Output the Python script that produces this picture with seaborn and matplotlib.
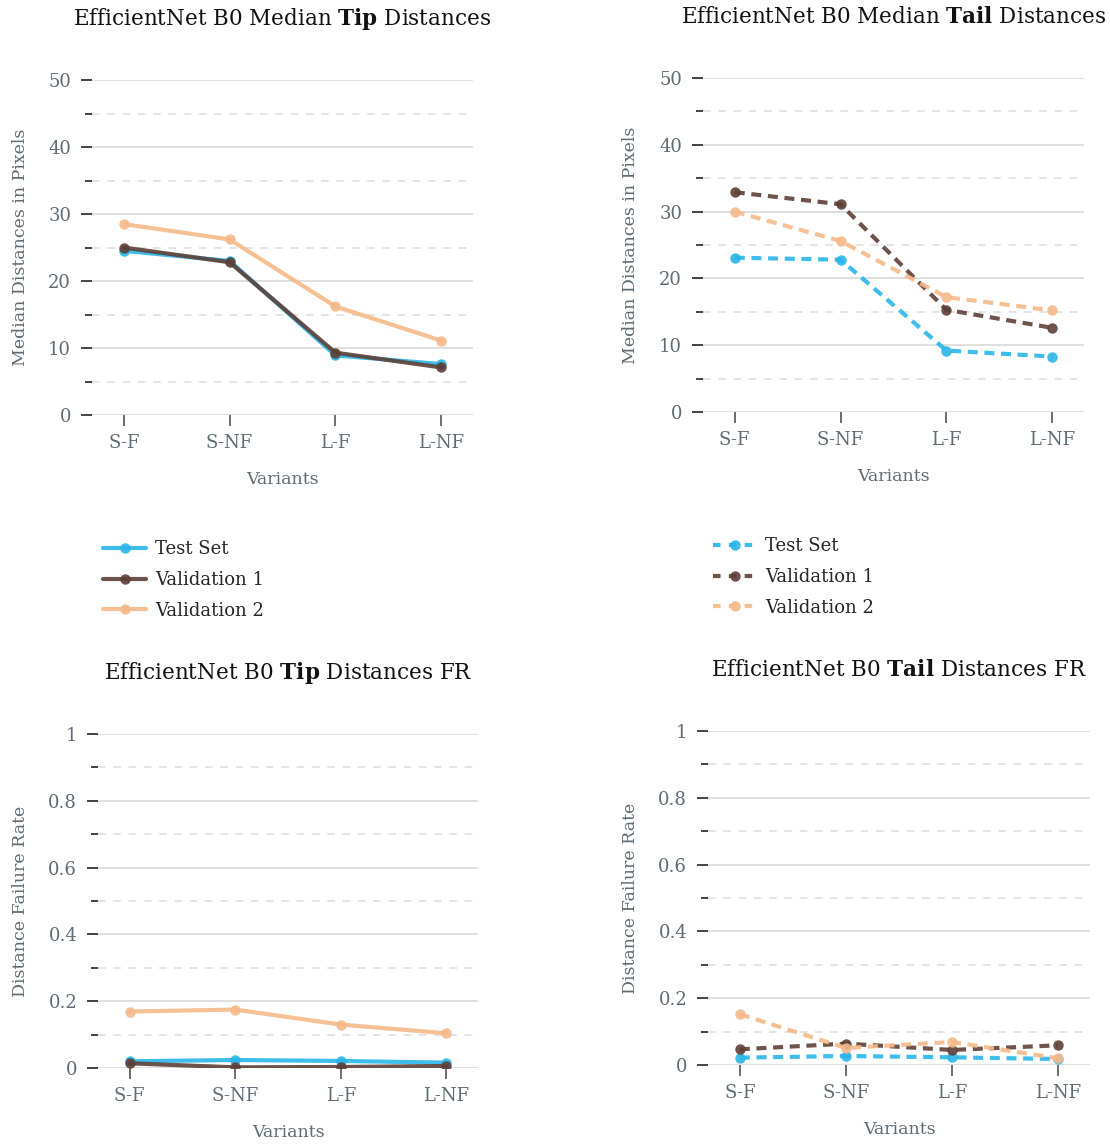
import matplotlib
matplotlib.use("Agg")
import matplotlib.pyplot as plt
from matplotlib.lines import Line2D
from matplotlib.ticker import MultipleLocator
import seaborn as sns
import pandas as pd

variants = ['S-F', 'S-NF', 'L-F', 'L-NF']
seriesNames = ['Test Set', 'Validation 1', 'Validation 2']
seriesColors = ['#29B5E8', '#5D4037', '#F5B98A']

tipMedianTest = [24.5, 23.0, 8.9, 7.6]
tipMedianVal1 = [25.0, 22.8, 9.3, 7.1]
tipMedianVal2 = [28.5, 26.2, 16.2, 11.1]

tailMedianTest = [23.1, 22.8, 9.2, 8.3]
tailMedianVal1 = [32.9, 31.1, 15.3, 12.6]
tailMedianVal2 = [30.0, 25.6, 17.2, 15.2]

tipFrTest = [0.020, 0.024, 0.021, 0.016]
tipFrVal1 = [0.014, 0.002, 0.003, 0.006]
tipFrVal2 = [0.169, 0.175, 0.130, 0.104]

tailFrTest = [0.022, 0.027, 0.023, 0.018]
tailFrVal1 = [0.047, 0.064, 0.045, 0.059]
tailFrVal2 = [0.152, 0.051, 0.069, 0.020]

W, H = 1110, 1145
TICK_COL = '#5f6b74'

sns.set_style("white")
plt.rcParams['font.family'] = ['DejaVu Serif']
plt.rcParams['mathtext.fontset'] = 'custom'
plt.rcParams['mathtext.rm'] = 'DejaVu Serif'
plt.rcParams['mathtext.bf'] = 'DejaVu Serif:bold'


def makeFrame(a, b, c):
    rows = []
    for name, vals in zip(seriesNames, [a, b, c]):
        for v, val in zip(variants, vals):
            rows.append({'variant': v, 'value': val, 'series': name})
    return pd.DataFrame(rows)


def pixAxes(fig, left, right, top, bottom):
    return fig.add_axes([left / W, 1 - bottom / H, (right - left) / W, (bottom - top) / H])


def drawPanel(ax, df, dashed, yMax, yMajor, title, ylabel, px):
    sns.lineplot(data=df, x='variant', y='value', hue='series', hue_order=seriesNames,
                 palette=seriesColors, marker='o', markersize=7.5, markeredgewidth=0,
                 linewidth=3, alpha=0.9, ax=ax, legend=False, sort=False)
    if dashed:
        for ln in ax.get_lines():
            ln.set_dashes((2.4, 1.6))
    ax.set_xlim(-0.3, 3.3)
    ax.set_ylim(0, yMax)
    ax.yaxis.set_major_locator(MultipleLocator(yMajor))
    ax.yaxis.set_minor_locator(MultipleLocator(yMajor / 2))
    ax.grid(which='major', axis='y', color='#dcdcdc', linewidth=1.3, linestyle='-')
    ax.grid(which='minor', axis='y', color='#dcdcdc', linewidth=1.1, linestyle=(0, (5, 5)))
    ax.set_axisbelow(True)
    for s in ax.spines.values():
        s.set_visible(False)
    ax.tick_params(axis='y', which='major', length=8, width=1.2, color='#222222',
                   labelsize=13, labelcolor=TICK_COL, pad=7, left=True)
    ax.tick_params(axis='y', which='minor', length=5, width=1.2, color='#222222', left=True)
    ax.tick_params(axis='x', which='major', length=8, width=1.2, color='#555555',
                   labelsize=13, labelcolor=TICK_COL, pad=6, bottom=True)
    if yMax <= 1:
        ax.set_yticklabels(['{:g}'.format(t) for t in ax.get_yticks()])
    ax.set_xlabel('Variants', fontsize=12.5, color=TICK_COL)
    ax.set_ylabel(ylabel, fontsize=12.5, color=TICK_COL)
    hAx = px[3] - px[2]
    wAx = px[1] - px[0]
    ax.xaxis.set_label_coords(0.5, -56 / hAx)
    ax.yaxis.set_label_coords((px[4] + 9 - px[0]) / wAx, 0.5)
    ax.text(0.5, 1 + 61 / hAx, title, transform=ax.transAxes, ha='center', va='center',
            fontsize=15.5, color='#111111')


def addLegend(fig, dashed, x, y):
    handles = []
    for name, col in zip(seriesNames, seriesColors):
        h = Line2D([], [], color=col, linewidth=3, marker='o', markersize=7.5,
                   markeredgewidth=0, alpha=0.9)
        if dashed:
            h.set_dashes((1.8, 2.0))
        handles.append(h)
    fig.legend(handles, seriesNames, loc='center left', bbox_to_anchor=(x / W, 1 - y / H),
               frameon=False, fontsize=13, handlelength=2.4, handletextpad=0.5,
               labelspacing=0.7, borderpad=0, borderaxespad=0)


fig = plt.figure(figsize=(W / 100, H / 100), dpi=100)

# left, right, top, bottom, ylabel centre x (pixels)
p1 = (92, 473, 80, 415, 20)
p2 = (703, 1084, 78, 412, 630)
p3 = (98, 478, 734, 1068, 20)
p4 = (708, 1090, 731, 1065, 630)

ax1 = pixAxes(fig, *p1[:4])
drawPanel(ax1, makeFrame(tipMedianTest, tipMedianVal1, tipMedianVal2), False, 50, 10,
          r'EfficientNet B0 Median $\bf{Tip}$ Distances', 'Median Distances in Pixels', p1)
ax2 = pixAxes(fig, *p2[:4])
drawPanel(ax2, makeFrame(tailMedianTest, tailMedianVal1, tailMedianVal2), True, 50, 10,
          r'EfficientNet B0 Median $\bf{Tail}$ Distances', 'Median Distances in Pixels', p2)
ax3 = pixAxes(fig, *p3[:4])
drawPanel(ax3, makeFrame(tipFrTest, tipFrVal1, tipFrVal2), False, 1, 0.2,
          r'EfficientNet B0 $\bf{Tip}$ Distances FR', 'Distance Failure Rate', p3)
ax4 = pixAxes(fig, *p4[:4])
drawPanel(ax4, makeFrame(tailFrTest, tailFrVal1, tailFrVal2), True, 1, 0.2,
          r'EfficientNet B0 $\bf{Tail}$ Distances FR', 'Distance Failure Rate', p4)

addLegend(fig, False, 103, 580)
addLegend(fig, True, 713, 577)

fig.savefig('out.png', dpi=100)
